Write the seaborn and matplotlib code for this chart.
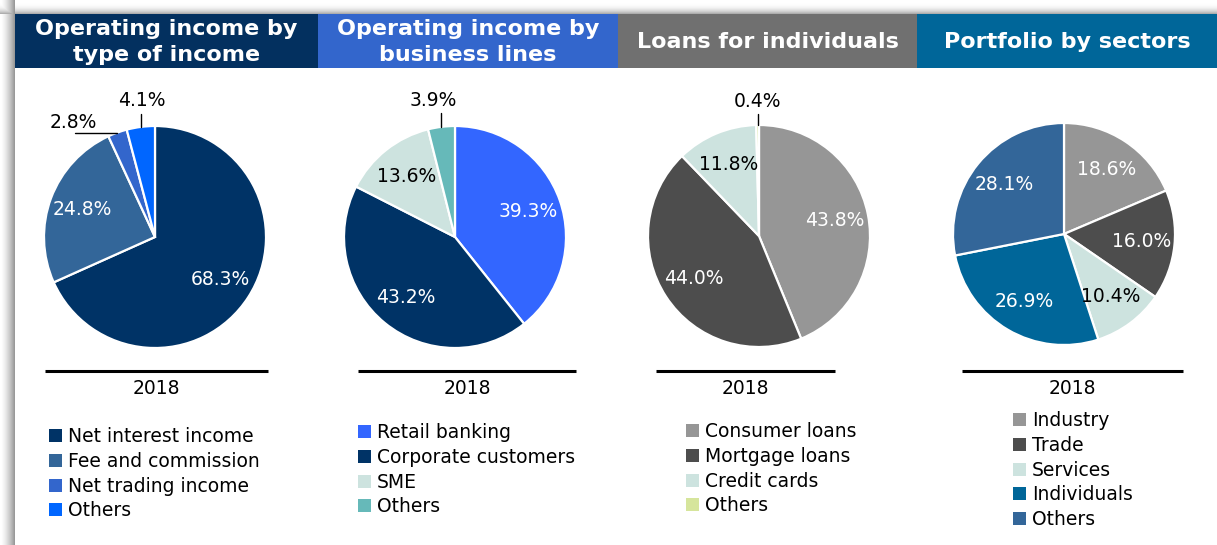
import numpy as np
import matplotlib
matplotlib.use("Agg")
import matplotlib.pyplot as plt
import matplotlib.colors as mcolors
from matplotlib.patches import Patch, Rectangle
import seaborn as sns

W, H = 1217, 545

# ---- data ----
titles = ["Operating income by\ntype of income",
          "Operating income by\nbusiness lines",
          "Loans for individuals",
          "Portfolio by sectors"]
header_colors = ["#03305F", "#3366CC", "#707070", "#006699"]
year_label = "2018"

income_labels = ["Net interest income", "Fee and commission", "Net trading income", "Others"]
income_values = [68.3, 24.8, 2.8, 4.1]
income_colors = ["#003366", "#336699", "#3366CC", "#0066FF"]

lines_labels = ["Retail banking", "Corporate customers", "SME", "Others"]
lines_values = [39.3, 43.2, 13.6, 3.9]
lines_colors = ["#3366FF", "#003366", "#CDE3DF", "#66B9B9"]

loans_labels = ["Consumer loans", "Mortgage loans", "Credit cards", "Others"]
loans_values = [43.8, 44.0, 11.8, 0.4]
loans_colors = ["#969696", "#4D4D4D", "#CDE3DF", "#D6E59C"]

sector_labels = ["Industry", "Trade", "Services", "Individuals", "Others"]
sector_values = [18.6, 16.0, 10.4, 26.9, 28.1]
sector_colors = ["#969696", "#4D4D4D", "#CDE3DF", "#006699", "#336699"]

panels = [
    dict(labels=income_labels, values=income_values, colors=income_colors,
         head=(15, 318), center=(155, 237), rule=(45, 268), legend=(49, 427),
         leader={2: (-42, 0, -2, 10), 3: (0, 13, 1, 13)}),
    dict(labels=lines_labels, values=lines_values, colors=lines_colors,
         head=(318, 618), center=(455, 237), rule=(358, 576), legend=(358, 423),
         leader={3: (0, 14, -8, 12)}),
    dict(labels=loans_labels, values=loans_values, colors=loans_colors,
         head=(618, 917), center=(759, 236), rule=(656, 835), legend=(686, 422),
         leader={3: (0, 11, 0, 13)}),
    dict(labels=sector_labels, values=sector_values, colors=sector_colors,
         head=(917, 1217), center=(1064, 234), rule=(962, 1183), legend=(1013, 411),
         leader={}),
]

sns.set_theme(style="white")
plt.rcParams["font.family"] = ["DejaVu Sans"]

fig = plt.figure(figsize=(W / 100, H / 100), dpi=100)

# background with soft shadow around the card
bg = fig.add_axes([0, 0, 1, 1])
shade = np.ones((H, W))
for y in range(14):
    shade[y, :] = 1 - 0.32 * (y / 13) ** 3
for x in range(15):
    shade[:, x] = np.minimum(shade[:, x], 1 - 0.4 * (x / 14) ** 1.5)
bg.imshow(shade, cmap="gray", vmin=0, vmax=1, extent=(0, W, 0, H), aspect="auto")
bg.set_xlim(0, W)
bg.set_ylim(0, H)
bg.axis("off")

R = 111
FS = 13.5
for i, p in enumerate(panels):
    ax = fig.add_axes([0, 0, 1, 1])
    ax.patch.set_alpha(0)

    # header
    x0, x1 = p["head"]
    ax.add_patch(Rectangle((x0, H - 68), x1 - x0, 54, color=header_colors[i], lw=0))
    ax.text((x0 + x1) / 2, H - 42, titles[i], color="white", fontsize=16,
            fontweight="bold", ha="center", va="center", linespacing=1.4)

    cx, cy = p["center"]
    vals = p["values"]
    wedges, _, autotexts = ax.pie(
        vals, colors=p["colors"], startangle=90, counterclock=False,
        center=(cx, H - cy), radius=R, pctdistance=0.7,
        autopct=lambda v: f"{v:.1f}%" if v >= 5 else "",
        wedgeprops=dict(edgecolor="white", linewidth=1.6),
        textprops=dict(fontsize=FS))
    for w, t, c in zip(wedges, autotexts, p["colors"]):
        r, g, b = mcolors.to_rgb(c)
        lum = 0.299 * r + 0.587 * g + 0.114 * b
        t.set_color("black" if lum > 0.7 else "white")

    # leader lines for the thin slices
    for k, (dx, dy, tx, ty) in p["leader"].items():
        w = wedges[k]
        ang = np.deg2rad((w.theta1 + w.theta2) / 2)
        ex, ey = cx + R * np.cos(ang), (H - cy) + R * np.sin(ang)
        ax.plot([ex, ex + dx], [ey, ey + dy], color="black", lw=1)
        ax.text(ex + dx + tx, ey + dy + ty, f"{vals[k]:.1f}%", fontsize=FS,
                ha="center", va="center", color="black")

    # rule and year
    r0, r1 = p["rule"]
    ax.plot([r0, r1], [H - 371, H - 371], color="black", lw=2.2,
            solid_capstyle="butt")
    ax.text((r0 + r1) / 2, H - 388, year_label, fontsize=FS, ha="center",
            va="center", color="black")

    handles = [Patch(facecolor=c, edgecolor="none") for c in p["colors"]]
    lx, ly = p["legend"]
    ax.legend(handles, p["labels"], loc="upper left",
              bbox_to_anchor=(lx, H - ly), bbox_transform=ax.transData,
              frameon=False, fontsize=FS, handlelength=0.7, handleheight=0.7,
              handletextpad=0.3, labelspacing=0.31, borderpad=0, borderaxespad=0,
              labelcolor="black")

    ax.set_xlim(0, W)
    ax.set_ylim(0, H)
    ax.axis("off")

fig.savefig("out.png", dpi=100)
